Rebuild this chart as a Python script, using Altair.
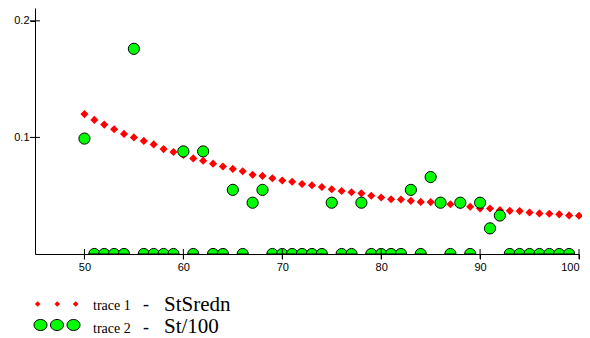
import altair as alt
import pandas as pd

# trace 1 : StSredn (x = 50..100)
x_red = list(range(50, 101))
stsredn = [0.120, 0.115, 0.111, 0.107, 0.103, 0.100, 0.097, 0.094, 0.090, 0.0875,
           0.085, 0.082, 0.080, 0.0775, 0.075, 0.073, 0.071, 0.068, 0.067, 0.065,
           0.063, 0.062, 0.060, 0.059, 0.0575, 0.0555, 0.054, 0.053, 0.052, 0.050,
           0.0485, 0.047, 0.0467, 0.0456, 0.0447, 0.0445, 0.044, 0.0427, 0.042, 0.0405,
           0.039, 0.039, 0.0376, 0.037, 0.0368, 0.0356, 0.0348, 0.0345, 0.034, 0.0331,
           0.0328]

# trace 2 : St/100 (x = 50..99)
x_green = list(range(50, 100))
st100 = [0.099, 0, 0, 0, 0, 0.176, 0, 0, 0, 0,
         0.088, 0, 0.088, 0, 0, 0.055, 0, 0.044, 0.055, 0,
         0, 0, 0, 0, 0, 0.044, 0, 0, 0.044, 0,
         0, 0, 0, 0.055, 0, 0.066, 0.044, 0, 0.044, 0,
         0.044, 0.022, 0.033, 0, 0, 0, 0, 0, 0, 0]

x_ticks = [50, 60, 70, 80, 90, 100]
y_ticks = [0.1, 0.2]

red_df = pd.DataFrame({"x": x_red, "y": stsredn})
green_df = pd.DataFrame({"x": x_green, "y": st100})

xs = alt.Scale(domain=[45, 100], nice=False, zero=False)
ys = alt.Scale(domain=[0, 0.211], nice=False)

xax = alt.Axis(values=x_ticks, format="d", title=None, grid=False, tickSize=5,
               labelPadding=2, labelFont="Liberation Sans", labelFontSize=11,
               labelColor="black", domainColor="black", tickColor="black")
yax = alt.Axis(values=y_ticks, format=".1f", title=None, grid=False, tickSize=5,
               labelPadding=1, labelFont="Liberation Sans", labelFontSize=11,
               labelColor="black", domainColor="black", tickColor="black")

HALF = "M-1,0A1,1,0,0,1,1,0Z"
ELLIPSE = "M-1,0A1,0.85,0,1,1,1,0A1,0.85,0,1,1,-1,0Z"

red = alt.Chart(red_df).mark_point(
    shape="diamond", filled=True, color="#ff0000", size=66, opacity=1
).encode(
    x=alt.X("x:Q", scale=xs, axis=xax),
    y=alt.Y("y:Q", scale=ys, axis=yax),
)

green_base = alt.Chart(green_df)
green_full = green_base.transform_filter("datum.y > 0").mark_point(
    shape="circle", filled=True, fill="#00ff00", stroke="black", strokeWidth=1,
    size=125, opacity=1
).encode(x="x:Q", y="y:Q")
green_zero = green_base.transform_filter("datum.y <= 0").mark_point(
    shape=HALF, filled=True, fill="#00ff00", stroke="black", strokeWidth=1,
    size=125, opacity=1, clip=True
).encode(x="x:Q", y="y:Q")

xt = alt.Chart(pd.DataFrame({"x": x_ticks})).mark_tick(
    orient="vertical", size=10, thickness=1, color="black", opacity=1
).encode(x="x:Q", y=alt.datum(0))

yt = alt.Chart(pd.DataFrame({"y": y_ticks})).mark_tick(
    orient="horizontal", size=10, thickness=1, color="black", opacity=1
).encode(y="y:Q", x=alt.datum(45))

layers = [red, green_zero, green_full, xt, yt]

one = pd.DataFrame({"a": [0]})
# legend symbols
for px in [2.7, 22.3, 40.7]:
    layers.append(alt.Chart(one).mark_point(
        shape="diamond", filled=True, color="#ff0000", size=32, opacity=1
    ).encode(x=alt.value(px), y=alt.value(296)))
for px in [5.5, 22, 38.5]:
    layers.append(alt.Chart(one).mark_point(
        shape=ELLIPSE, filled=True, fill="#00ff00", stroke="black", strokeWidth=1,
        size=169, opacity=1
    ).encode(x=alt.value(px), y=alt.value(317)))

# legend texts
texts = [
    ("trace 1", 58, 302, 14),
    ("trace 2", 58, 324.5, 14),
    ("-", 108, 302, 18),
    ("-", 108, 324.5, 18),
    ("StSredn", 129, 302.5, 21),
    ("St/100", 129, 324.5, 21),
]
for t, px, py, fs in texts:
    layers.append(alt.Chart(pd.DataFrame({"t": [t]})).mark_text(
        align="left", baseline="alphabetic", font="Liberation Serif",
        fontSize=fs, color="black"
    ).encode(text="t:N", x=alt.value(px), y=alt.value(py)))

chart = alt.layer(*layers).properties(
    width=544, height=246,
    autosize=alt.AutoSizeParams(type="none"),
    padding={"left": 27, "top": 0, "right": 3, "bottom": 86},
    background="white",
).configure_view(stroke=None)

chart.save("out.html", embed_options={"renderer": "svg", "actions": False})
